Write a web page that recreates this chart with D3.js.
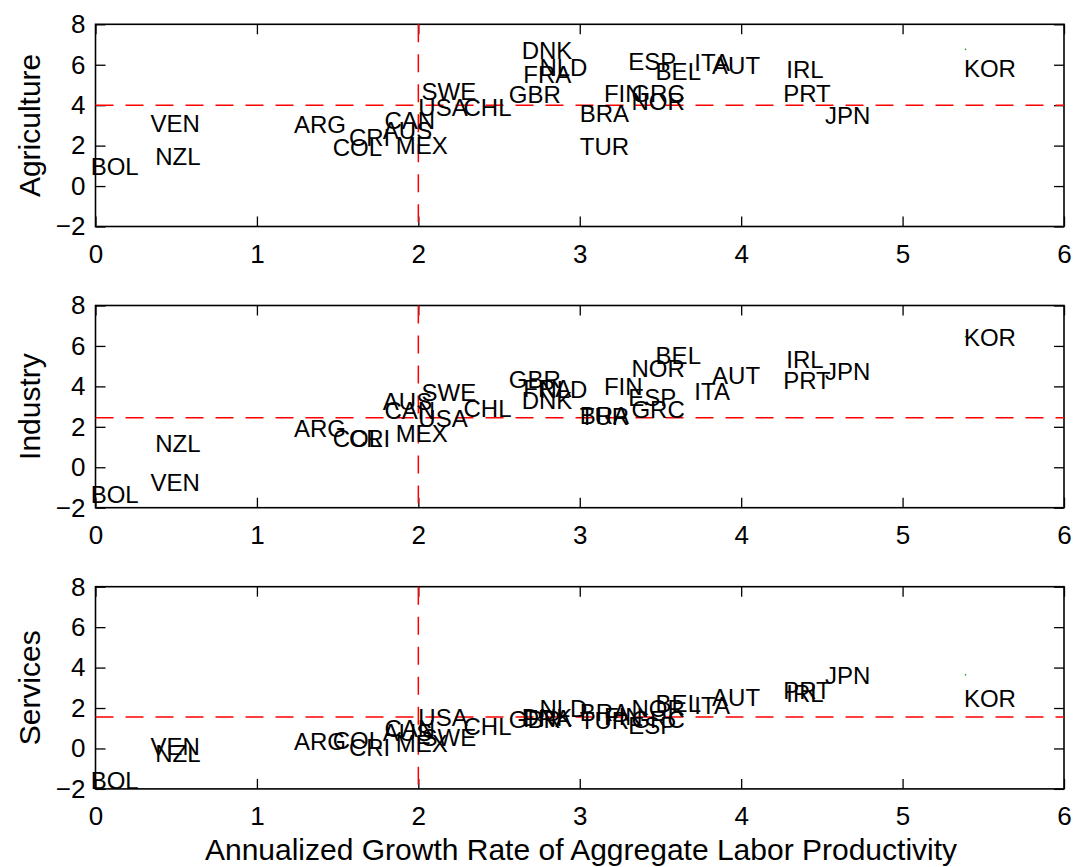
<!DOCTYPE html>
<html>
<head>
<meta charset="utf-8">
<script src="https://cdn.jsdelivr.net/npm/d3@7"></script>
<style>
  body { margin: 0; background: #fff; }
  svg text { font-family: "Liberation Sans", Arial, Helvetica, sans-serif; fill: #000; }
  .tick line { stroke: #000; stroke-width: 1.3; }
  .tick text { font-size: 26px; }
  .cty { font-size: 24px; }
  .ylab, .xlab { font-size: 30px; }
</style>
</head>
<body>
<div id="chart"></div>
<script>
// country codes and annualized aggregate labor productivity growth (x)
var countries = ["BOL","VEN","NZL","ARG","COL","CRI","AUS","CAN","MEX","USA","SWE","CHL",
                 "GBR","DNK","FRA","NLD","BRA","TUR","FIN","ESP","GRC","NOR","BEL","ITA",
                 "AUT","IRL","PRT","JPN","KOR"];
var growth    = [-0.03, 0.34, 0.37, 1.23, 1.47, 1.57, 1.78, 1.79, 1.86, 2.00, 2.02, 2.28,
                 2.56, 2.64, 2.65, 2.75, 3.00, 3.00, 3.15, 3.30, 3.32, 3.32, 3.47, 3.71,
                 3.82, 4.28, 4.26, 4.52, 5.38];
// sector growth rates (y)
var agriculture = [0.95, 3.10, 1.45, 3.05, 1.91, 2.41, 2.77, 3.23, 2.03, 3.89, 4.66, 3.88,
                   4.55, 6.73, 5.54, 5.87, 3.59, 1.94, 4.58, 6.15, 4.58, 4.17, 5.65, 6.12,
                   5.99, 5.79, 4.58, 3.51, 5.82];
var industry    = [-1.33, -0.77, 1.18, 1.92, 1.43, 1.43, 3.24, 2.83, 1.67, 2.42, 3.68, 2.91,
                   4.35, 3.29, 3.90, 3.85, 2.55, 2.53, 3.98, 3.46, 2.86, 4.89, 5.55, 3.73,
                   4.56, 5.34, 4.31, 4.72, 6.43];
var services    = [-1.57, 0.08, -0.25, 0.33, 0.41, 0.05, 0.82, 0.99, 0.25, 1.53, 0.57, 1.10,
                   1.44, 1.53, 1.48, 1.98, 1.81, 1.40, 1.60, 1.15, 1.45, 1.98, 2.23, 2.14,
                   2.52, 2.72, 2.85, 3.63, 2.48];
var sectorNames = ["Agriculture", "Industry", "Services"];
var sectorMeans = [4.0, 2.45, 1.55];   // horizontal dashed lines
var aggMean = 2;                        // vertical dashed line
var markerY = [6.76, 6.46, 3.64];       // tiny green marker above KOR
var markerX = 5.39;
var xTicks = [0, 1, 2, 3, 4, 5, 6];
var yTicks = [-2, 0, 2, 4, 6, 8];

var W = 1076, H = 867;
var plotLeft = 95.5, plotRight = 1064, panelH = 202.2;
var panelTops = [24.3, 305.5, 586.7];

var svg = d3.select("#chart").append("svg")
    .attr("width", W).attr("height", H);

var x = d3.scaleLinear().domain([0, 6]).range([plotLeft, plotRight]);
var series = [agriculture, industry, services];

function drawPanel(p) {
  var pt = panelTops[p];
  var y = d3.scaleLinear().domain([-2, 8]).range([pt + panelH, pt]);
  var g = svg.append("g");

  // axes with inward ticks
  g.append("g")
      .attr("transform", "translate(" + plotLeft + ",0)")
      .call(d3.axisLeft(y).tickValues(yTicks).tickSizeInner(-10).tickSizeOuter(0).tickPadding(10)
            .tickFormat(function(d) { return d < 0 ? "\u2212" + Math.abs(d) : d; }))
      .call(function(a) { a.select(".domain").remove(); });
  g.append("g")
      .attr("transform", "translate(" + plotRight + ",0)")
      .call(d3.axisRight(y).tickValues(yTicks).tickSizeInner(-10).tickSizeOuter(0).tickFormat(""))
      .call(function(a) { a.select(".domain").remove(); });
  g.append("g")
      .attr("transform", "translate(0," + (pt + panelH) + ")")
      .call(d3.axisBottom(x).tickValues(xTicks).tickSizeInner(-10).tickSizeOuter(0).tickPadding(18)
            .tickFormat(d3.format("d")))
      .call(function(a) { a.select(".domain").remove(); a.selectAll("text").attr("dy", "0.71em"); });
  g.append("g")
      .attr("transform", "translate(0," + pt + ")")
      .call(d3.axisTop(x).tickValues(xTicks).tickSizeInner(-10).tickSizeOuter(0).tickFormat(""))
      .call(function(a) { a.select(".domain").remove(); });

  g.selectAll(".tick text").attr("font-family", null).attr("font-size", null);

  // box
  g.append("rect")
      .attr("x", plotLeft).attr("y", pt)
      .attr("width", plotRight - plotLeft).attr("height", panelH)
      .attr("fill", "none").attr("stroke", "#000").attr("stroke-width", 1.6);

  // dashed reference lines
  g.append("line")
      .attr("x1", x(0)).attr("x2", x(6))
      .attr("y1", y(sectorMeans[p])).attr("y2", y(sectorMeans[p]))
      .attr("stroke", "#ff0000").attr("stroke-width", 1.5).attr("stroke-dasharray", "18,12");
  g.append("line")
      .attr("x1", x(aggMean)).attr("x2", x(aggMean))
      .attr("y1", y(8)).attr("y2", y(-2))
      .attr("stroke", "#ff0000").attr("stroke-width", 1.5).attr("stroke-dasharray", "18,12");

  g.append("circle")
      .attr("cx", x(markerX)).attr("cy", y(markerY[p])).attr("r", 0.8)
      .attr("fill", "#00a000");

  // country labels
  var vals = series[p];
  g.selectAll("text.cty")
      .data(countries)
    .enter().append("text")
      .attr("class", "cty")
      .attr("x", function(d, i) { return x(growth[i]); })
      .attr("y", function(d, i) { return y(vals[i]); })
      .attr("dy", "0.36em")
      .text(function(d) { return d; });

  svg.append("text")
      .attr("class", "ylab")
      .attr("transform", "translate(40," + (pt + panelH / 2) + ") rotate(-90)")
      .attr("text-anchor", "middle")
      .text(sectorNames[p]);
}

for (var p = 0; p < 3; p++) drawPanel(p);

svg.append("text")
    .attr("class", "xlab")
    .attr("x", (207 + 955) / 2)
    .attr("y", 860)
    .attr("text-anchor", "middle")
    .text("Annualized Growth Rate of Aggregate Labor Productivity");
</script>
</body>
</html>
